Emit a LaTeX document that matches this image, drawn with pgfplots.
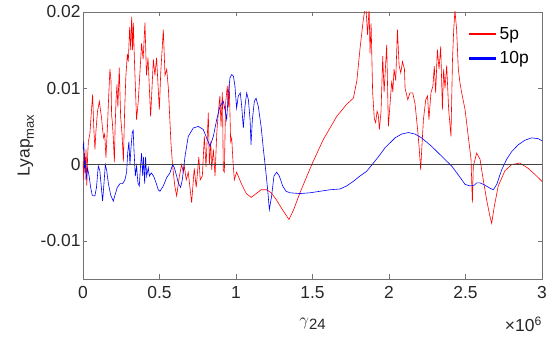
\documentclass[border=0pt]{standalone}
\usepackage{fontspec}
\setmainfont{Liberation Sans}
\usepackage{pgfplots}
\pgfplotsset{compat=1.18}
\newcommand{\tf}{\fontsize{17.5}{21}\selectfont}
\begin{document}
\begin{tikzpicture}
\begin{axis}[
  scale only axis, width=459bp, height=267bp,
  xmin=0, xmax=3, ymin=-1.5, ymax=2,
  xtick={0,0.5,1,1.5,2,2.5,3},
  xticklabels={0,0.5,1,1.5,2,2.5,3},
  ytick={-1,0,1,2}, yticklabels={-0.01,0,0.01,0.02},
  /pgf/number format/assume math mode=true,
  tick align=inside, major tick length=4.5bp,
  axis line style={black!55, line width=0.6bp},
  every tick/.style={black!55, line width=0.6bp},
  tick label style={font=\tf, black!85},
  xticklabel style={yshift=-4bp},
  yticklabel style={xshift=1bp},
  ylabel style={font=\tf, black!85},
  xlabel style={font=\tf, black!85, at={(rel axis cs:0.5,0)}, anchor=north, yshift=-39bp, inner sep=0pt},
  xlabel={{\fontsize{19}{21}\selectfont$\gamma$}\raisebox{-0.45ex}{\fontsize{15}{17}\selectfont 24}},
  ylabel={Lyap\raisebox{-0.45ex}{\fontsize{13}{15}\selectfont max}},
  legend style={draw=none, fill=none, at={(1,1)}, anchor=north east, xshift=-8bp, yshift=-11bp, font=\tf, row sep=7bp},
  legend cell align=left,
  legend image code/.code={\draw[#1, line width=2.8bp] (0bp,0bp) -- (27bp,0bp);},
]
\addplot[red, line width=0.6bp] coordinates {
(0.000,0.05) (0.005,-0.20) (0.010,0.15) (0.015,-0.10) (0.020,0.20) (0.025,-0.28) (0.030,0.10)
(0.035,0.30) (0.045,0.40) (0.055,0.70) (0.063,0.92) (0.070,0.50) (0.078,0.20) (0.085,0.45)
(0.095,0.70) (0.107,0.83) (0.115,0.70) (0.122,0.60) (0.128,0.46) (0.135,0.35) (0.142,0.40)
(0.150,0.09) (0.160,0.50) (0.168,0.90) (0.176,1.25) (0.183,1.10) (0.187,0.65) (0.192,0.55)
(0.198,0.35) (0.205,0.03) (0.210,0.50) (0.216,0.85) (0.222,1.05) (0.228,0.75) (0.237,1.27)
(0.246,0.63) (0.255,0.40) (0.264,0.04) (0.272,0.70) (0.280,1.15) (0.290,1.45) (0.296,1.35)
(0.305,1.80) (0.312,1.50) (0.318,1.94) (0.324,1.50) (0.329,1.86) (0.336,1.38) (0.350,0.59)
(0.360,0.80) (0.372,1.20) (0.383,1.59) (0.393,1.38) (0.405,1.86) (0.415,1.17) (0.425,1.40)
(0.442,0.63) (0.460,1.38) (0.470,1.17) (0.481,1.40) (0.499,0.72) (0.508,1.20) (0.525,1.77)
(0.536,1.17) (0.547,1.25) (0.558,1.00) (0.565,0.70) (0.575,0.28) (0.585,0.00) (0.600,-0.28)
(0.612,-0.41) (0.630,-0.15) (0.645,0.00) (0.655,-0.10) (0.662,-0.02) (0.675,-0.20) (0.688,-0.10)
(0.710,-0.50) (0.727,-0.05) (0.740,-0.30) (0.757,0.10) (0.766,-0.20) (0.780,-0.15) (0.793,0.37)
(0.804,-0.03) (0.819,0.68) (0.826,0.00) (0.835,0.30) (0.841,-0.07) (0.852,0.20) (0.863,-0.15)
(0.874,0.40) (0.885,0.70) (0.895,0.90) (0.902,0.50) (0.911,0.95) (0.917,-0.07) (0.924,-0.10)
(0.932,0.80) (0.943,1.03) (0.950,0.75) (0.956,1.05) (0.965,0.30) (0.972,0.35) (0.980,0.05)
(0.989,-0.20) (1.004,-0.10) (1.035,-0.25) (1.067,-0.38) (1.100,-0.43) (1.132,-0.38) (1.165,-0.33)
(1.200,-0.33) (1.230,-0.37) (1.260,-0.45) (1.300,-0.58) (1.346,-0.72) (1.375,-0.60) (1.418,-0.37)
(1.495,0.00) (1.571,0.33) (1.658,0.63) (1.723,0.79) (1.767,0.87) (1.790,1.10) (1.810,1.51)
(1.832,1.90) (1.848,2.10) (1.860,1.70) (1.870,2.05) (1.876,1.46) (1.883,1.85) (1.893,0.95)
(1.904,0.60) (1.913,0.55) (1.922,0.70) (1.930,0.65) (1.937,0.46) (1.948,0.70) (1.959,1.42)
(1.968,0.95) (1.985,1.57) (1.996,0.50) (2.007,0.80) (2.018,1.10) (2.025,0.95) (2.033,1.25)
(2.044,1.10) (2.055,1.77) (2.066,1.30) (2.077,1.20) (2.088,1.35) (2.101,1.25) (2.105,1.00)
(2.123,0.85) (2.137,0.94) (2.155,0.94) (2.170,0.80) (2.187,0.46) (2.198,0.20) (2.207,-0.07)
(2.214,0.20) (2.225,0.59) (2.240,0.85) (2.252,0.90) (2.261,0.59) (2.274,0.94) (2.287,1.03)
(2.296,1.29) (2.305,0.94) (2.316,1.51) (2.327,1.25) (2.338,1.55) (2.349,0.72) (2.357,1.25)
(2.366,1.00) (2.377,1.30) (2.390,0.72) (2.405,0.37) (2.415,1.38) (2.423,1.77) (2.431,2.02)
(2.442,1.77) (2.453,1.25) (2.464,1.07) (2.475,0.94) (2.497,0.72) (2.518,0.37) (2.536,0.07)
(2.545,-0.50) (2.551,-0.02) (2.573,0.15) (2.595,0.07) (2.616,-0.20) (2.638,-0.46) (2.660,-0.68)
(2.671,-0.77) (2.688,-0.55) (2.714,-0.28) (2.758,-0.08) (2.802,0.00) (2.856,0.02) (2.910,-0.05)
(2.954,-0.13) (3.000,-0.22)
};
\addlegendentry{5p}
\addplot[blue, line width=0.6bp] coordinates {
(0.000,0.20) (0.005,0.30) (0.010,-0.05) (0.015,0.05) (0.020,-0.20) (0.024,-0.15) (0.030,-0.05)
(0.040,-0.15) (0.050,-0.30) (0.060,-0.40) (0.068,-0.41) (0.078,-0.41) (0.088,-0.30) (0.100,-0.02)
(0.110,-0.08) (0.120,-0.30) (0.128,-0.48) (0.137,-0.25) (0.146,0.00) (0.155,-0.08) (0.166,-0.25)
(0.181,-0.40) (0.198,-0.48) (0.209,-0.40) (0.224,-0.30) (0.242,-0.25) (0.259,-0.25) (0.274,-0.20)
(0.285,-0.10) (0.292,0.15) (0.300,0.30) (0.307,0.00) (0.313,0.20) (0.322,0.42) (0.328,0.45)
(0.333,0.20) (0.342,-0.15) (0.350,-0.02) (0.359,-0.24) (0.368,-0.28) (0.376,-0.02) (0.383,0.15)
(0.390,-0.15) (0.396,0.10) (0.403,-0.25) (0.409,0.10) (0.416,-0.15) (0.427,-0.04) (0.434,-0.15)
(0.446,-0.11) (0.461,-0.15) (0.478,-0.24) (0.492,-0.33) (0.503,-0.35) (0.525,-0.28) (0.547,-0.17)
(0.568,-0.11) (0.586,0.00) (0.597,-0.04) (0.612,-0.15) (0.623,-0.24) (0.638,-0.30) (0.649,-0.20)
(0.667,0.11) (0.688,0.37) (0.721,0.48) (0.754,0.50) (0.786,0.46) (0.808,0.35) (0.830,0.24)
(0.852,0.37) (0.874,0.59) (0.895,0.76) (0.917,0.83) (0.928,0.72) (0.939,0.59) (0.950,0.94)
(0.961,1.14) (0.972,1.18) (0.983,1.16) (0.993,1.03) (1.004,0.74) (1.015,0.90) (1.028,0.94)
(1.037,0.77) (1.048,0.48) (1.059,0.77) (1.070,0.94) (1.081,0.85) (1.092,0.59) (1.098,0.26)
(1.107,0.59) (1.120,0.83) (1.131,0.87) (1.146,0.76) (1.164,0.50) (1.179,0.20) (1.194,-0.07)
(1.207,-0.33) (1.218,-0.59) (1.233,-0.41) (1.248,-0.15) (1.266,-0.10) (1.283,-0.15) (1.305,-0.28)
(1.327,-0.35) (1.353,-0.37) (1.418,-0.38) (1.484,-0.37) (1.549,-0.35) (1.614,-0.33) (1.680,-0.32)
(1.723,-0.28) (1.767,-0.22) (1.810,-0.15) (1.853,-0.09) (1.890,0.00) (1.930,0.10) (1.974,0.22)
(2.039,0.35) (2.083,0.40) (2.126,0.42) (2.170,0.40) (2.213,0.35) (2.278,0.24) (2.344,0.11)
(2.410,-0.02) (2.462,-0.16) (2.497,-0.26) (2.529,-0.28) (2.558,-0.27) (2.573,-0.24) (2.595,-0.24)
(2.627,-0.27) (2.660,-0.31) (2.682,-0.33) (2.704,-0.26) (2.736,-0.07) (2.769,0.07) (2.802,0.17)
(2.845,0.26) (2.889,0.32) (2.932,0.35) (2.976,0.34) (3.000,0.31)
};
\addlegendentry{10p}
\addplot[black!75, line width=0.6bp, forget plot] coordinates {(0,0) (3,0)};
\coordinate (sw) at (rel axis cs:0,0);
\coordinate (se) at (rel axis cs:1,0);
\coordinate (ne) at (rel axis cs:1,1);
\end{axis}
\node[anchor=north east, font=\tf, black!85, inner sep=0pt] at ([shift={(0bp,-38bp)}]se) {×10\textsuperscript{6}};
\pgfresetboundingbox
\path[use as bounding box] ([shift={(-83bp,-64bp)}]sw) rectangle ([shift={(8bp,12bp)}]ne);
\end{tikzpicture}
\end{document}
